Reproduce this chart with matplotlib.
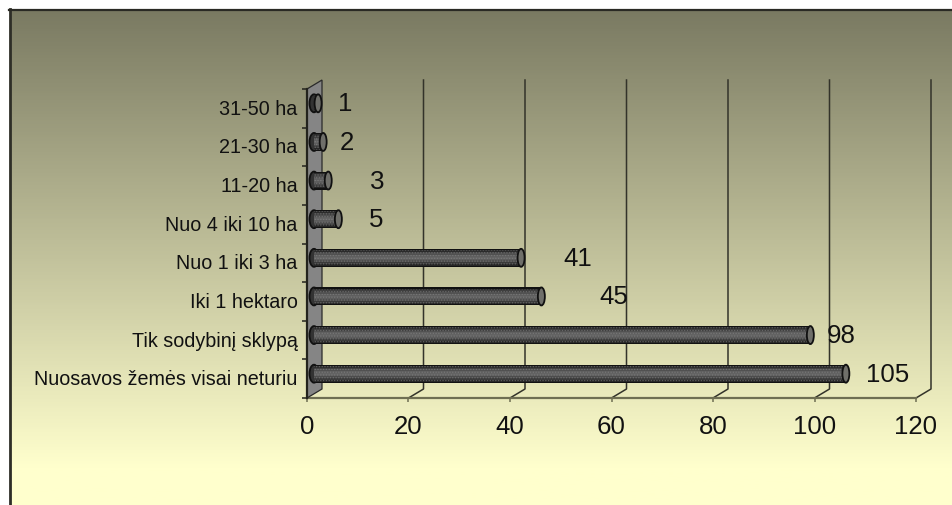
import numpy as np
import matplotlib
matplotlib.use("Agg")
import matplotlib.pyplot as plt
from matplotlib.colors import LinearSegmentedColormap
from matplotlib.patches import Ellipse, Polygon

categories = ["Nuosavos žemės visai neturiu", "Tik sodybinį sklypą", "Iki 1 hektaro",
              "Nuo 1 iki 3 ha", "Nuo 4 iki 10 ha", "11-20 ha", "21-30 ha", "31-50 ha"]
values = [105, 98, 45, 41, 5, 3, 2, 1]
x_ticks = [0, 20, 40, 60, 80, 100, 120]
# hand-placed label shift from the bar end, in x units
label_shift = [3.2, 2.6, 10.8, 7.7, 5.3, 7.5, 2.6, 3.2]

W, H = 953, 506
plt.rcParams["font.family"] = ["Liberation Sans", "DejaVu Sans"]
plt.rcParams["hatch.linewidth"] = 0.6
fig = plt.figure(figsize=(W / 100, H / 100), dpi=100, facecolor="white")

# background
bg = fig.add_axes([11 / W, -0.01, 1, 1.01 - 11 / H])
cmap = LinearSegmentedColormap.from_list("bg", ["#7a7a62", "#ffffcd"])
grad = np.clip(np.linspace(0, 500 / 459, 256), 0, 1).reshape(-1, 1)
bg.imshow(grad, aspect="auto", cmap=cmap, vmin=0, vmax=1)
bg.axis("off")
fig.add_artist(plt.Line2D([10 / W, 10 / W], [0, 1 - 10 / H], color="#2e2e27", lw=2))
fig.add_artist(plt.Line2D([9 / W, 1], [1 - 10.5 / H, 1 - 10.5 / H], color="#2a2a24", lw=1.6))

# plot area, front plane
ax = fig.add_axes([307 / W, 1 - 399 / H, 609 / W, 309 / H])
ax.patch.set_visible(False)
ax.set_xlim(0, 120)
ax.set_ylim(-0.5, 7.5)
px_x = 120 / 609
px_y = 8 / 309
dx = 15 * px_x
dy = 9 * px_y

for s in ax.spines.values():
    s.set_visible(False)

# back grid and floor
for t in x_ticks[1:]:
    ax.plot([t, t + dx, t + dx], [-0.5, -0.5 + dy, 7.5 + dy], color="#33332a", lw=1.1,
            clip_on=False, zorder=1)
ax.plot([0, 120], [-0.5, -0.5], color="#6e6e52", lw=1.6, clip_on=False, zorder=2)

# left wall
wall = Polygon([(0, -0.5), (dx, -0.5 + dy), (dx, 7.5 + dy), (0, 7.5)], closed=True,
               facecolor="#858585", edgecolor="#2a2a2a", lw=0.9, clip_on=False, zorder=2)
ax.add_patch(wall)
ax.plot([0, 0], [-0.5, 7.5], color="#23231d", lw=1.6, clip_on=False, zorder=3)

# cylinders
bar_off = 5 * px_y
bar_x = 7 * px_x
cap_w = 7 * px_x
bar_h = 18 * px_y
shades = ["#262626", "#3a3a3a", "#4c4c4c", "#5c5c5c", "#636363", "#5e5e5e", "#505050", "#3f3f3f", "#2b2b2b"]
band_h = bar_h * 0.88 / len(shades)
for i, v in enumerate(values):
    yc = i + bar_off
    x_end = v + bar_x - 1 * px_x
    length = x_end - bar_x
    ax.add_patch(Ellipse((bar_x, yc), 9 * px_x, bar_h, facecolor="#333333", edgecolor="#111111",
                         lw=1.3, zorder=4, clip_on=False))
    ax.barh(yc, length, left=bar_x, height=bar_h, color="#111111", zorder=4, clip_on=False)
    for k, c in enumerate(shades):
        yb = yc - bar_h * 0.44 + (k + 0.5) * band_h
        ax.barh(yb, length, left=bar_x, height=band_h, color=c, zorder=5, clip_on=False)
    ax.barh(yc, length, left=bar_x, height=bar_h * 0.88, facecolor="none",
            edgecolor="#8a8a8a", hatch="......", lw=0, alpha=0.5, zorder=6, clip_on=False)
    ax.add_patch(Ellipse((x_end, yc), cap_w, bar_h, facecolor="#6f6f6a", edgecolor="#111111",
                         lw=1.3, zorder=7, clip_on=False))
    ax.text(x_end + cap_w / 2 + label_shift[i], yc, str(v), fontsize=18.6,
            ha="left", va="center", color="#111111", zorder=8, clip_on=False)

# axes ticks
ax.set_xticks(x_ticks)
ax.set_xticklabels(x_ticks, fontsize=18.6, color="#111111")
ax.tick_params(axis="x", length=3.2, width=1.1, color="#6e6e52", pad=8)
ax.set_yticks(np.arange(-0.5, 8, 1))
ax.set_yticklabels([])
ax.set_yticks(np.arange(8) + 2 * px_y, minor=True)
ax.set_yticklabels(categories, minor=True, fontsize=14.25, color="#111111")
ax.tick_params(axis="y", which="major", length=3.6, width=1.1, color="#23231d")
ax.tick_params(axis="y", which="minor", length=0, pad=6.8)

fig.savefig("out.png", dpi=100)
